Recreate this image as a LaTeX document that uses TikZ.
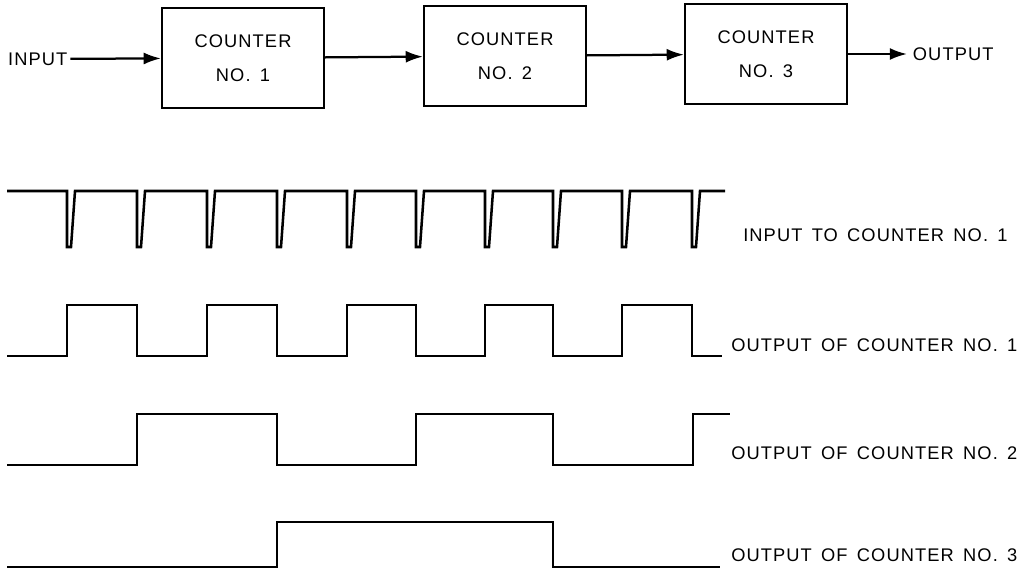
\documentclass[tikz,border=0pt]{standalone}
\usepackage{fontspec}
\usepackage{tikz}
\usetikzlibrary{arrows.meta, positioning}
\newfontfamily\lettering[LetterSpace=6, WordSpace=1.5]{Liberation Sans}

\begin{document}
\begin{tikzpicture}[
    x=0.025cm, y=-0.025cm,
    counter/.style={rectangle, draw=black, line width=1.5pt, minimum width=4.05cm, minimum height=2.52cm, align=center, font=\lettering\fontsize{13}{15.5}\selectfont},
    conn/.style={draw=black, -{Latex[length=4.3mm, width=3mm]}, line width=1.6pt},
    wave/.style={draw=black, line width=1.8pt, line join=miter},
    lbl/.style={font=\lettering\fontsize{13}{15.5}\selectfont, anchor=west, inner sep=0pt}
]
    \useasboundingbox (0,0) rectangle (1033,574);

    % Row 1: counter chain
    \node (cnt1) at (243,58) [counter] {COUNTER\\[9pt]NO. 1};
    \node (cnt2) at (505,56) [counter] {COUNTER\\[9pt]NO. 2};
    \node (cnt3) at (766,54) [counter] {COUNTER\\[9pt]NO. 3};
    \node (inp) at (5,59) [lbl, inner sep=2pt] {INPUT};
    \node (outp) at (907,54) [lbl, inner sep=4pt] {OUTPUT};

    \draw [conn] (inp) -- (cnt1);
    \draw [conn] (cnt1) -- (cnt2);
    \draw [conn] (cnt2) -- (cnt3);
    \draw [conn] (cnt3) -- (outp);

    % Input pulse train
    \draw [wave] (7,191)
        \foreach \tk in {67,137,207,277,347,416,485,553,622,692} {
            -- (\tk,191) -- (\tk,247) -- ++(4,0) -- ++(4,-56)
        } -- (725,191);

    % Counter outputs
    \draw [wave] (7,356) -| (67,305) -| (137,356) -| (207,305) -| (277,356) -| (347,305)
        -| (416,356) -| (485,305) -| (553,356) -| (622,305) -| (692,356) -- (722,356);
    \draw [wave] (7,465) -| (137,414) -| (277,465) -| (416,414) -| (553,465) -| (693,414) -- (730,414);
    \draw [wave] (7,567) -| (277,522) -| (553,567) -- (720,567);

    % Waveform labels
    \node (lblin) at (743,235) [lbl] {INPUT TO COUNTER NO. 1};
    \node (lblc1) at (731,345) [lbl] {OUTPUT OF COUNTER NO. 1};
    \node (lblc2) at (731,453) [lbl] {OUTPUT OF COUNTER NO. 2};
    \node (lblc3) at (731,555) [lbl] {OUTPUT OF COUNTER NO. 3};

\end{tikzpicture}
\end{document}
